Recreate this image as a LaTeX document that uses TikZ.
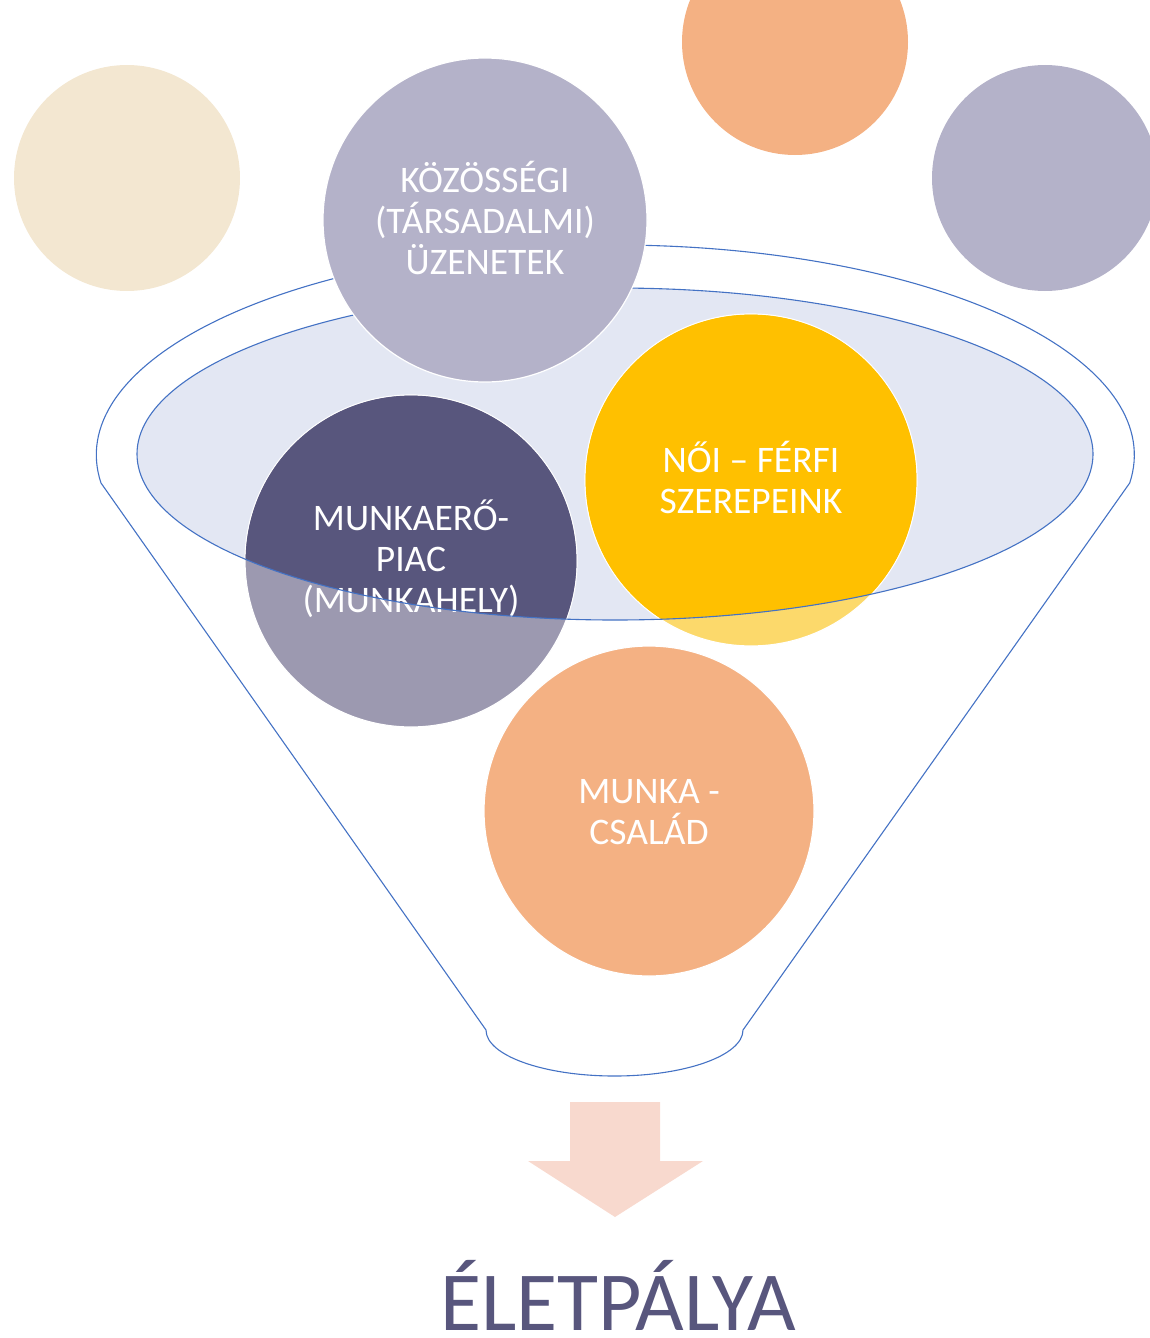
\documentclass[tikz,border=0pt]{standalone}
\usepackage{fontspec}
\setmainfont{Carlito}
\begin{document}
\begin{tikzpicture}[x=1pt,y=1pt,
  bubble/.style={circle, inner sep=0pt, draw=white, line width=1.2pt},
  ctext/.style={text=white, align=center, font=\fontsize{37.5}{41}\selectfont},
  funnelline/.style={draw=funnelblue, line width=1.1pt}]
\definecolor{beige}{HTML}{F3E7D1}
\definecolor{lav}{HTML}{B4B2C9}
\definecolor{peach}{HTML}{F4B183}
\definecolor{dpurple}{HTML}{58567D}
\definecolor{fpurple}{HTML}{9C99B0}
\definecolor{gold}{HTML}{FFC000}
\definecolor{fgold}{HTML}{FCD96B}
\definecolor{ellfill}{HTML}{E3E7F3}
\definecolor{funnelblue}{HTML}{4472C4}
\definecolor{arrowc}{HTML}{F8D9CE}
\useasboundingbox (0,0) rectangle (1150,-1338);
% small decorative circles
\node[bubble, draw=none, fill=beige, minimum size=226] (c1) at (127,-178) {};
\node[bubble, draw=none, fill=peach, minimum size=226] (c2) at (795,-42) {};
\node[bubble, draw=none, fill=lav, minimum size=226] (c3) at (1045,-178) {};
% funnel outline
\draw[funnelline] (486,-1030) -- (101,-483)
  arc[start angle=187.66, end angle=-7.66, x radius=519, y radius=210]
  -- (743,-1030)
  arc[start angle=0, end angle=-180, x radius=128.5, y radius=46] -- cycle;
% inner ellipse fill
\fill[ellfill] (615,-454) ellipse[x radius=478, y radius=166];
% labour market circle
\node[bubble, fill=fpurple, minimum size=332] (munka) at (411,-561) {};
\begin{scope}
  \clip (615,-454) ellipse[x radius=478, y radius=166];
  \fill[dpurple] (munka.center) circle[radius=165.4];
\end{scope}
\node[ctext] (munkat) at (411,-559) {MUNKAERŐ-\\PIAC\\(MUNKAHELY)};
% gender roles circle
\node[bubble, fill=fgold, minimum size=332] (noi) at (751,-480) {};
\begin{scope}
  \clip (615,-454) ellipse[x radius=478, y radius=166];
  \fill[gold] (noi.center) circle[radius=165.4];
\end{scope}
\node[ctext] (noit) at (751,-477) {NŐI – FÉRFI\\SZEREPEINK};
% inner ellipse outline
\draw[funnelline] (615,-454) ellipse[x radius=478, y radius=166];
% top circle
\node[bubble, fill=lav, minimum size=324] (koz) at (485,-220) {};
\node[ctext] (kozt) at (485,-218) {KÖZÖSSÉGI\\(TÁRSADALMI)\\ÜZENETEK};
% bottom circle
\node[bubble, fill=peach, minimum size=330] (csal) at (649,-811) {};
\node[ctext] (csalt) at (649,-812) {MUNKA -\\CSALÁD};
% arrow
\fill[arrowc] (570,-1102) -- (660,-1102) -- (660,-1161) -- (703,-1161)
  -- (615,-1217) -- (528,-1161) -- (570,-1161) -- cycle;
\node[anchor=base, text=dpurple, font=\fontsize{84}{96}\selectfont, inner sep=0pt] (elet) at (618,-1330) {ÉLETPÁLYA};
\end{tikzpicture}
\end{document}
